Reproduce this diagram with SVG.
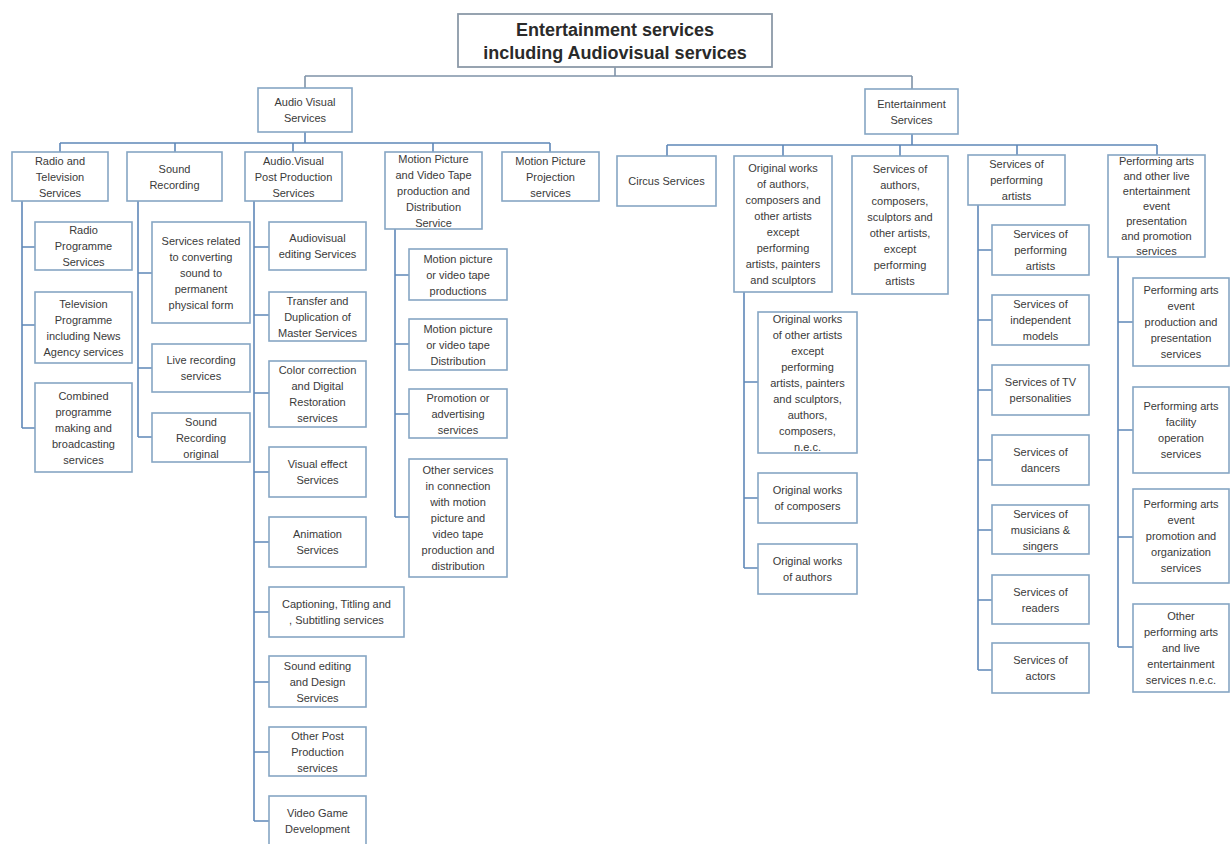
<svg xmlns="http://www.w3.org/2000/svg" width="1231" height="844" viewBox="0 0 1231 844">
<style>
.bg{fill:#ffffff}
.box{fill:#ffffff;stroke:#86a6c4;stroke-width:1.6}
.rootbox{fill:#ffffff;stroke:#8c9aa8;stroke-width:1.8}
.t{font-family:"Liberation Sans",Arial,sans-serif;font-size:11px;fill:#3a3a3a;text-anchor:middle}
.title{font-family:"Liberation Sans",Arial,sans-serif;font-size:18px;font-weight:bold;fill:#2a2a2a;text-anchor:middle}
.conn{stroke:#5f88b8;stroke-width:1.6;fill:none}
.conn0{stroke:#7f93a8;stroke-width:1.6;fill:none}
</style>
<rect class="bg" x="0" y="0" width="1231" height="844"/>
<g id="connectors">
<path class="conn0" d="M615,67V76 M305,76H912 M305,76V88 M912,76V89"/>
<path class="conn" d="M305,132V143 M60,143H550 M60,143V152 M175,143V152 M293,143V152 M433,143V152 M550,143V152"/>
<path class="conn" d="M912,134V145 M667,145H1157 M667,145V156 M783,145V156 M900,145V156 M1017,145V155 M1157,145V155"/>
<path class="conn" d="M22,201V428 M22,247H35 M22,325H35 M22,428H35"/>
<path class="conn" d="M138,201V437 M138,273H152 M138,368H152 M138,437H152"/>
<path class="conn" d="M254,201V821 M254,247H269 M254,315H269 M254,393H269 M254,472H269 M254,542H269 M254,612H269 M254,682H269 M254,752H269 M254,821H269"/>
<path class="conn" d="M395,229V517 M395,275H409 M395,344H409 M395,414H409 M395,517H409"/>
<path class="conn" d="M744,292V568 M744,382H758 M744,498H758 M744,568H758"/>
<path class="conn" d="M978,205V670 M978,250H992 M978,320H992 M978,390H992 M978,460H992 M978,530H992 M978,600H992 M978,670H992"/>
<path class="conn" d="M1118,257V647 M1118,322H1133 M1118,430H1133 M1118,537H1133 M1118,647H1133"/>
</g>
<g id="root"><rect class="rootbox" x="458" y="14" width="314" height="53"/><text class="title" x="615"><tspan x="615" y="36">Entertainment services</tspan><tspan x="615" y="59">including Audiovisual services</tspan></text></g>
<g id="av"><rect class="box" x="258" y="88" width="94" height="44"/><text class="t"><tspan x="305" y="106">Audio Visual</tspan><tspan x="305" y="122">Services</tspan></text></g>
<g id="ent"><rect class="box" x="865" y="89" width="93" height="45"/><text class="t"><tspan x="911.5" y="107.5">Entertainment</tspan><tspan x="911.5" y="123.5">Services</tspan></text></g>
<g id="radio"><rect class="box" x="12" y="152" width="96" height="49"/><text class="t"><tspan x="60" y="164.5">Radio and</tspan><tspan x="60" y="180.5">Television</tspan><tspan x="60" y="196.5">Services</tspan></text></g>
<g id="sound"><rect class="box" x="127" y="152" width="95" height="49"/><text class="t"><tspan x="174.5" y="172.5">Sound</tspan><tspan x="174.5" y="188.5">Recording</tspan></text></g>
<g id="post"><rect class="box" x="245" y="152" width="97" height="49"/><text class="t"><tspan x="293.5" y="164.5">Audio.Visual</tspan><tspan x="293.5" y="180.5">Post Production</tspan><tspan x="293.5" y="196.5">Services</tspan></text></g>
<g id="motion"><rect class="box" x="385" y="152" width="97" height="77"/><text class="t"><tspan x="433.5" y="162.5">Motion Picture</tspan><tspan x="433.5" y="178.5">and Video Tape</tspan><tspan x="433.5" y="194.5">production and</tspan><tspan x="433.5" y="210.5">Distribution</tspan><tspan x="433.5" y="226.5">Service</tspan></text></g>
<g id="proj"><rect class="box" x="502" y="152" width="97" height="49"/><text class="t"><tspan x="550.5" y="164.5">Motion Picture</tspan><tspan x="550.5" y="180.5">Projection</tspan><tspan x="550.5" y="196.5">services</tspan></text></g>
<g id="circus"><rect class="box" x="617" y="156" width="99" height="50"/><text class="t"><tspan x="666.5" y="185">Circus Services</tspan></text></g>
<g id="orig"><rect class="box" x="734" y="156" width="98" height="136"/><text class="t"><tspan x="783" y="172">Original works</tspan><tspan x="783" y="188">of authors,</tspan><tspan x="783" y="204">composers and</tspan><tspan x="783" y="220">other artists</tspan><tspan x="783" y="236">except</tspan><tspan x="783" y="252">performing</tspan><tspan x="783" y="268">artists, painters</tspan><tspan x="783" y="284">and sculptors</tspan></text></g>
<g id="servauth"><rect class="box" x="852" y="156" width="96" height="138"/><text class="t"><tspan x="900" y="173">Services of</tspan><tspan x="900" y="189">authors,</tspan><tspan x="900" y="205">composers,</tspan><tspan x="900" y="221">sculptors and</tspan><tspan x="900" y="237">other artists,</tspan><tspan x="900" y="253">except</tspan><tspan x="900" y="269">performing</tspan><tspan x="900" y="285">artists</tspan></text></g>
<g id="perf"><rect class="box" x="968" y="155" width="97" height="50"/><text class="t"><tspan x="1016.5" y="168">Services of</tspan><tspan x="1016.5" y="184">performing</tspan><tspan x="1016.5" y="200">artists</tspan></text></g>
<g id="perfarts"><rect class="box" x="1108" y="155" width="97" height="102"/><text class="t"><tspan x="1156.5" y="165">Performing arts</tspan><tspan x="1156.5" y="180">and other live</tspan><tspan x="1156.5" y="195">entertainment</tspan><tspan x="1156.5" y="210">event</tspan><tspan x="1156.5" y="225">presentation</tspan><tspan x="1156.5" y="240">and promotion</tspan><tspan x="1156.5" y="255">services</tspan></text></g>
<g id="radio-prog"><rect class="box" x="35" y="222" width="97" height="48"/><text class="t"><tspan x="83.5" y="234">Radio</tspan><tspan x="83.5" y="250">Programme</tspan><tspan x="83.5" y="266">Services</tspan></text></g>
<g id="tv-prog"><rect class="box" x="35" y="292" width="97" height="71"/><text class="t"><tspan x="83.5" y="307.5">Television</tspan><tspan x="83.5" y="323.5">Programme</tspan><tspan x="83.5" y="339.5">including News</tspan><tspan x="83.5" y="355.5">Agency services</tspan></text></g>
<g id="combined"><rect class="box" x="35" y="383" width="97" height="89"/><text class="t"><tspan x="83.5" y="399.5">Combined</tspan><tspan x="83.5" y="415.5">programme</tspan><tspan x="83.5" y="431.5">making and</tspan><tspan x="83.5" y="447.5">broadcasting</tspan><tspan x="83.5" y="463.5">services</tspan></text></g>
<g id="converting"><rect class="box" x="152" y="222" width="98" height="101"/><text class="t"><tspan x="201" y="244.5">Services related</tspan><tspan x="201" y="260.5">to converting</tspan><tspan x="201" y="276.5">sound to</tspan><tspan x="201" y="292.5">permanent</tspan><tspan x="201" y="308.5">physical form</tspan></text></g>
<g id="live"><rect class="box" x="152" y="344" width="98" height="48"/><text class="t"><tspan x="201" y="364">Live recording</tspan><tspan x="201" y="380">services</tspan></text></g>
<g id="sound-orig"><rect class="box" x="152" y="413" width="98" height="49"/><text class="t"><tspan x="201" y="425.5">Sound</tspan><tspan x="201" y="441.5">Recording</tspan><tspan x="201" y="457.5">original</tspan></text></g>
<g id="av-edit"><rect class="box" x="269" y="222" width="97" height="48"/><text class="t"><tspan x="317.5" y="242">Audiovisual</tspan><tspan x="317.5" y="258">editing Services</tspan></text></g>
<g id="transfer"><rect class="box" x="269" y="292" width="97" height="49"/><text class="t"><tspan x="317.5" y="304.5">Transfer and</tspan><tspan x="317.5" y="320.5">Duplication of</tspan><tspan x="317.5" y="336.5">Master Services</tspan></text></g>
<g id="color"><rect class="box" x="269" y="361" width="97" height="66"/><text class="t"><tspan x="317.5" y="374">Color correction</tspan><tspan x="317.5" y="390">and Digital</tspan><tspan x="317.5" y="406">Restoration</tspan><tspan x="317.5" y="422">services</tspan></text></g>
<g id="visual"><rect class="box" x="269" y="447" width="97" height="50"/><text class="t"><tspan x="317.5" y="468">Visual effect</tspan><tspan x="317.5" y="484">Services</tspan></text></g>
<g id="animation"><rect class="box" x="269" y="517" width="97" height="50"/><text class="t"><tspan x="317.5" y="538">Animation</tspan><tspan x="317.5" y="554">Services</tspan></text></g>
<g id="caption"><rect class="box" x="269" y="587" width="135" height="50"/><text class="t"><tspan x="336.5" y="608">Captioning, Titling and</tspan><tspan x="336.5" y="624">, Subtitling services</tspan></text></g>
<g id="sound-edit"><rect class="box" x="269" y="656" width="97" height="51"/><text class="t"><tspan x="317.5" y="669.5">Sound editing</tspan><tspan x="317.5" y="685.5">and Design</tspan><tspan x="317.5" y="701.5">Services</tspan></text></g>
<g id="other-post"><rect class="box" x="269" y="727" width="97" height="49"/><text class="t"><tspan x="317.5" y="739.5">Other Post</tspan><tspan x="317.5" y="755.5">Production</tspan><tspan x="317.5" y="771.5">services</tspan></text></g>
<g id="videogame"><rect class="box" x="269" y="796" width="97" height="50"/><text class="t"><tspan x="317.5" y="817">Video Game</tspan><tspan x="317.5" y="833">Development</tspan></text></g>
<g id="mp-prod"><rect class="box" x="409" y="249" width="98" height="51"/><text class="t"><tspan x="458" y="262.5">Motion picture</tspan><tspan x="458" y="278.5">or video tape</tspan><tspan x="458" y="294.5">productions</tspan></text></g>
<g id="mp-dist"><rect class="box" x="409" y="319" width="98" height="51"/><text class="t"><tspan x="458" y="332.5">Motion picture</tspan><tspan x="458" y="348.5">or video tape</tspan><tspan x="458" y="364.5">Distribution</tspan></text></g>
<g id="mp-promo"><rect class="box" x="409" y="389" width="98" height="49"/><text class="t"><tspan x="458" y="401.5">Promotion or</tspan><tspan x="458" y="417.5">advertising</tspan><tspan x="458" y="433.5">services</tspan></text></g>
<g id="mp-other"><rect class="box" x="409" y="459" width="98" height="118"/><text class="t"><tspan x="458" y="474">Other services</tspan><tspan x="458" y="490">in connection</tspan><tspan x="458" y="506">with motion</tspan><tspan x="458" y="522">picture and</tspan><tspan x="458" y="538">video tape</tspan><tspan x="458" y="554">production and</tspan><tspan x="458" y="570">distribution</tspan></text></g>
<g id="ow-other"><rect class="box" x="758" y="312" width="99" height="141"/><text class="t"><tspan x="807.5" y="322.5">Original works</tspan><tspan x="807.5" y="338.5">of other artists</tspan><tspan x="807.5" y="354.5">except</tspan><tspan x="807.5" y="370.5">performing</tspan><tspan x="807.5" y="386.5">artists, painters</tspan><tspan x="807.5" y="402.5">and sculptors,</tspan><tspan x="807.5" y="418.5">authors,</tspan><tspan x="807.5" y="434.5">composers,</tspan><tspan x="807.5" y="450.5">n.e.c.</tspan></text></g>
<g id="ow-composers"><rect class="box" x="758" y="473" width="99" height="50"/><text class="t"><tspan x="807.5" y="494">Original works</tspan><tspan x="807.5" y="510">of composers</tspan></text></g>
<g id="ow-authors"><rect class="box" x="758" y="544" width="99" height="50"/><text class="t"><tspan x="807.5" y="565">Original works</tspan><tspan x="807.5" y="581">of authors</tspan></text></g>
<g id="pa-perf"><rect class="box" x="992" y="225" width="97" height="50"/><text class="t"><tspan x="1040.5" y="238">Services of</tspan><tspan x="1040.5" y="254">performing</tspan><tspan x="1040.5" y="270">artists</tspan></text></g>
<g id="pa-models"><rect class="box" x="992" y="295" width="97" height="50"/><text class="t"><tspan x="1040.5" y="308">Services of</tspan><tspan x="1040.5" y="324">independent</tspan><tspan x="1040.5" y="340">models</tspan></text></g>
<g id="pa-tv"><rect class="box" x="992" y="365" width="97" height="50"/><text class="t"><tspan x="1040.5" y="386">Services of TV</tspan><tspan x="1040.5" y="402">personalities</tspan></text></g>
<g id="pa-dancers"><rect class="box" x="992" y="435" width="97" height="50"/><text class="t"><tspan x="1040.5" y="456">Services of</tspan><tspan x="1040.5" y="472">dancers</tspan></text></g>
<g id="pa-musicians"><rect class="box" x="992" y="505" width="97" height="49"/><text class="t"><tspan x="1040.5" y="517.5">Services of</tspan><tspan x="1040.5" y="533.5">musicians &amp;</tspan><tspan x="1040.5" y="549.5">singers</tspan></text></g>
<g id="pa-readers"><rect class="box" x="992" y="575" width="97" height="49"/><text class="t"><tspan x="1040.5" y="595.5">Services of</tspan><tspan x="1040.5" y="611.5">readers</tspan></text></g>
<g id="pa-actors"><rect class="box" x="992" y="643" width="97" height="50"/><text class="t"><tspan x="1040.5" y="664">Services of</tspan><tspan x="1040.5" y="680">actors</tspan></text></g>
<g id="pe-production"><rect class="box" x="1133" y="278" width="96" height="88"/><text class="t"><tspan x="1181" y="294">Performing arts</tspan><tspan x="1181" y="310">event</tspan><tspan x="1181" y="326">production and</tspan><tspan x="1181" y="342">presentation</tspan><tspan x="1181" y="358">services</tspan></text></g>
<g id="pe-facility"><rect class="box" x="1133" y="387" width="96" height="86"/><text class="t"><tspan x="1181" y="410">Performing arts</tspan><tspan x="1181" y="426">facility</tspan><tspan x="1181" y="442">operation</tspan><tspan x="1181" y="458">services</tspan></text></g>
<g id="pe-promotion"><rect class="box" x="1133" y="489" width="96" height="94"/><text class="t"><tspan x="1181" y="508">Performing arts</tspan><tspan x="1181" y="524">event</tspan><tspan x="1181" y="540">promotion and</tspan><tspan x="1181" y="556">organization</tspan><tspan x="1181" y="572">services</tspan></text></g>
<g id="pe-other"><rect class="box" x="1133" y="604" width="96" height="88"/><text class="t"><tspan x="1181" y="620">Other</tspan><tspan x="1181" y="636">performing arts</tspan><tspan x="1181" y="652">and live</tspan><tspan x="1181" y="668">entertainment</tspan><tspan x="1181" y="684">services n.e.c.</tspan></text></g>
</svg>
